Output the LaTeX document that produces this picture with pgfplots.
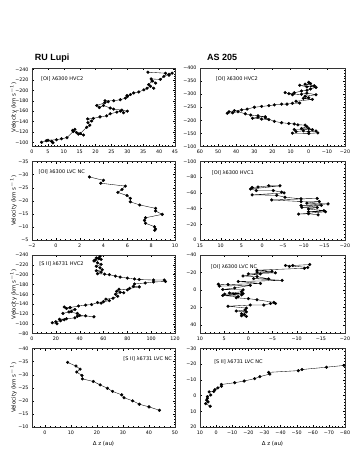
\documentclass[border=0pt]{standalone}
\usepackage{fontspec}
\setmainfont{DejaVu Sans}
\newfontfamily\titlefont{Liberation Sans}
\usepackage{pgfplots}
\pgfplotsset{compat=1.18}

% tick labels with a real minus sign in the text font
\newcommand{\tk}{\pgfmathtruncatemacro\tkv{\tick}\ifnum\tkv<0 −\pgfmathtruncatemacro\tkw{-\tkv}\tkw\else\tkv\fi}

\tikzset{plab/.style={font=\fontsize{5}{6}\selectfont, inner sep=0pt}}

\pgfplotsset{
  panel/.style={
    scale only axis, anchor=north west, clip=false,
    y dir=reverse,
    tick align=inside, tick pos=both, minor tick num=4,
    major tick length=2.4pt, minor tick length=1.2pt,
    axis line style={line width=0.4pt, black!80},
    every tick/.style={black, line width=0.3pt},
    tick label style={font=\fontsize{4.8}{5}\selectfont},
    xticklabel=\tk, yticklabel=\tk,
    xlabel style={font=\fontsize{5.5}{6}\selectfont},
    every axis y label/.style={at={(axis description cs:-0.13,0.5)}, rotate=90, anchor=center, font=\fontsize{5.5}{6}\selectfont},
    every axis plot post/.append style={black, line width=0.35pt, mark=*, mark size=1.4pt, mark options={solid, draw=black, fill=black}},
  },
  lw/.style={panel, width=143pt, height=78.5pt, ylabel={Velocity (km s$^{-1}$)}},
  rw/.style={panel, width=145pt, height=78.5pt, x dir=reverse},
}

\begin{document}
\begin{tikzpicture}
\path[use as bounding box] (0,0) rectangle (354pt,-471pt);

% ---------------- RU Lupi ----------------
\begin{axis}[lw, at={(32pt,-68pt)},
  xmin=0, xmax=45, xtick distance=5,
  ymin=-243, ymax=-92, ytick={-240,-220,...,-100}]
\addplot coordinates {
(3.0,-100) (4.5,-103) (6.2,-102) (6.6,-99) (5.0,-104) (7.7,-105) (9.3,-107)
(11.0,-109) (13.0,-121) (13.5,-125) (12.8,-123) (14.0,-119) (14.6,-116)
(16.2,-114) (15.2,-117) (17.2,-129) (18.2,-133) (17.6,-138) (18.8,-141)
(17.5,-145) (19.3,-146) (21.4,-149) (23.5,-151) (24.6,-155) (26.7,-158)
(27.8,-160) (28.8,-157) (30.0,-160) (28.3,-162) (25.7,-164) (24.6,-166)
(22.5,-171) (21.2,-167) (20.4,-171) (22.9,-176) (24.0,-178) (23.0,-180)
(25.7,-180) (27.8,-182) (29.4,-185) (29.9,-190) (31.0,-192) (30.0,-188)
(32.0,-195) (33.6,-197) (35.2,-201) (36.2,-204) (37.3,-208) (38.3,-204)
(36.7,-211) (37.8,-218) (38.9,-214) (37.5,-222) (40.4,-221) (41.5,-227)
(43.1,-231) (44.1,-233) (43.1,-229) (42.0,-233) (36.5,-235)
};
\node[plab, anchor=west] at (axis description cs:0.063,0.86) {[OI] λ6300 HVC2};
\node[font=\titlefont\bfseries\fontsize{9}{10}\selectfont] at (axis description cs:0.14,1.13) {RU Lupi};
\end{axis}

\begin{axis}[lw, at={(32pt,-161.5pt)},
  xmin=-2, xmax=10, xtick distance=2,
  ymin=-35, ymax=-5, ytick distance=5]
\addplot coordinates {
(2.82,-29.1) (4.0,-27.8) (3.77,-26.7) (5.83,-25.6) (5.55,-24.3) (5.2,-23.2)
(5.97,-22.0) (6.25,-20.9) (6.25,-19.6) (7.04,-18.4) (8.37,-17.1) (8.37,-16.1)
(8.93,-14.8) (7.52,-13.5) (7.44,-12.5) (7.52,-11.4) (8.28,-10.1) (8.37,-9.2)
(8.3,-8.7)
};
\node[plab, anchor=west] at (axis description cs:0.045,0.866) {[OI] λ6300 LVC NC};
\end{axis}

\begin{axis}[lw, at={(32pt,-255pt)},
  xmin=0, xmax=120, xtick distance=20,
  ymin=-240, ymax=-80, ytick distance=20]
\addplot coordinates {
(17,-102) (21,-100) (20,-104) (24,-106) (27,-108) (23,-109) (29,-110)
(36,-112) (38,-115) (45,-116) (52,-114) (40,-117) (38,-121) (31,-124)
(26,-121) (33,-125) (36,-129) (29,-131) (27,-134) (32,-133) (39,-136)
(45,-138) (50,-139) (55,-143) (58,-142) (60,-145) (65,-147) (62,-150)
(68,-152) (72,-156) (70,-160) (74,-164) (77,-163) (71,-166) (73,-170)
(80,-169) (82,-172) (90,-175) (85,-176) (86,-181) (95,-183) (102,-185)
(112,-186) (111,-189) (102,-189) (90,-190) (86,-191) (80,-193) (74,-195)
(70,-197) (65,-200) (61,-201) (55,-202) (58,-205) (54,-208) (59,-210)
(57,-214) (54,-217) (58,-221) (55,-224) (52,-228) (58,-231) (54,-234)
(57,-237) (56,-233) (53,-230)
};
\node[plab, anchor=west] at (axis description cs:0.05,0.885) {[S II] λ6731 HVC2};
\end{axis}

\begin{axis}[lw, at={(32pt,-348.5pt)},
  xmin=-5, xmax=50, xtick distance=10,
  ymin=-40, ymax=-10, ytick distance=5,
  xlabel={Δ z (au)}]
\addplot coordinates {
(8.7,-34.7) (11.9,-33.3) (13.5,-32.1) (12.2,-31.0) (14.2,-29.7) (14.4,-28.4)
(18.6,-27.4) (21.2,-26.1) (24.0,-24.8) (26.0,-23.6) (29.5,-22.3) (30.4,-21.2)
(33.7,-20.0) (36.3,-18.7) (40.0,-17.7) (44.0,-16.4)
};
\node[plab, anchor=east] at (axis description cs:0.98,0.866) {[S II] λ6731 LVC NC};
\end{axis}

% ---------------- AS 205 ----------------
\begin{axis}[rw, at={(200pt,-68pt)},
  xmin=-20, xmax=60, xtick distance=10,
  ymin=-400, ymax=-100, ytick distance=50]
\addplot coordinates {
(0,-345) (-1,-340) (2,-338) (-3,-332) (1,-328) (5,-334) (-4,-326) (-1,-320)
(1,-315) (4,-312) (8,-305) (11,-302) (13,-306) (9,-298) (4,-300) (1,-304)
(-4,-298) (2,-292) (0,-286) (3,-284) (-2,-280) (7,-273) (5,-266) (9,-265)
(12,-262) (15,-262) (19,-259) (22,-256) (26,-253) (30,-250) (34,-243)
(37,-240) (41,-237) (44,-233) (45,-227) (42,-229) (39,-233) (35,-225)
(32,-220) (28,-217) (24,-214) (28,-212) (31,-208) (26,-205) (22,-203)
(24,-210) (19,-196) (15,-191) (11,-188) (8,-186) (6,-183) (2,-182) (1,-176)
(4,-169) (0,-169) (-2,-164) (8,-165) (7,-157) (3,-160) (0,-156) (-4,-159)
(-5,-152) (0,-150) (9,-151)
};
\node[plab, anchor=west] at (axis description cs:0.108,0.86) {[OI] λ6300 HVC2};
\node[font=\titlefont\bfseries\fontsize{9}{10}\selectfont] at (axis description cs:0.152,1.13) {AS 205};
\end{axis}

\begin{axis}[rw, at={(200pt,-161.5pt)},
  xmin=-20, xmax=15, xtick distance=5,
  ymin=-100, ymax=0, ytick distance=20]
\addplot coordinates {
(2.4,-67) (1,-67.5) (-1.6,-69) (-4.3,-69) (2.8,-65) (1.4,-63) (-2.7,-63)
(-4.7,-61) (-5.3,-60) (2.4,-57.5) (-3.5,-57) (-5.5,-54.5) (-9.4,-52.5)
(-13.3,-53) (-2.3,-51) (-9.4,-49) (-13.8,-49) (-10.8,-47) (-15.9,-46)
(-9.4,-44) (-14.3,-44) (-9.6,-41.5) (-13.3,-41.5) (-11.2,-39.5)
(-14.9,-37.5) (-11.2,-36) (-15.3,-36) (-8.8,-33) (-11.2,-33.5) (-13.5,-32)
};
\node[plab, anchor=west] at (axis description cs:0.08,0.853) {[OI] λ6300 HVC1};
\end{axis}

\begin{axis}[rw, at={(200pt,-255pt)},
  xmin=-20, xmax=10, xtick distance=5,
  ymin=-40, ymax=50, ytick={-40,-20,...,40}]
\addplot coordinates {
(-12.7,-29) (-9.2,-28) (-8.5,-27) (-7.7,-28) (-12.3,-25.7) (-11.6,-24.8)
(-1.8,-22.6) (-4.9,-21.3) (-1.8,-20.4) (-5.6,-19.6) (0,-18.3) (-2.5,-18.3)
(1.1,-16) (-1.8,-15.2) (-4.2,-12.6) (-1.1,-13) (-7,-10.9) (2.1,-9.6)
(-2.5,-7.4) (4.2,-6.1) (6.2,-6.5) (6,-4.3) (-0.4,-5.2) (2.8,-2.2)
(5.3,-0.4) (1.1,0) (1.4,2.2) (3.9,3.5) (1.1,4.3) (4.9,4.8) (1.4,5.7)
(5.3,6.5) (2.1,7.8) (2.5,9.1) (0,10) (-1.8,11.3) (-5.3,14.3) (-5.6,15.6)
(-4.6,15.6) (-3.2,17.4) (-0.4,17.4) (4.2,18.7) (0.4,20.9) (0.7,23)
(2.5,24.3) (0.4,25.2) (1.4,27.4) (0.8,28.3) (1.4,29.6) (0.4,30.4)
};
\node[plab, anchor=west] at (axis description cs:0.074,0.85) {[OI] λ6300 LVC NC};
\end{axis}

\begin{axis}[rw, at={(200pt,-348.5pt)},
  xmin=-80, xmax=10, xtick distance=10,
  ymin=-30, ymax=20, ytick distance=10,
  xlabel={Δ z (au)}]
\addplot coordinates {
(-79.3,-19.2) (-68.5,-18.1) (-53.3,-16.6) (-51,-15.9) (-32.6,-14.8)
(-33.3,-13.7) (-27.2,-12.1) (-23.9,-10.8) (-17.4,-9.3) (-11.5,-8.2)
(-3.3,-7.1) (-3.3,-6) (-1.1,-4.9) (0.7,-3.8) (1.5,-2.6) (4.3,-2.4)
(3.3,-0.4) (5.4,0.7) (5.4,1.8) (5.9,2.9) (5,4) (6.5,5.1) (3.7,6.8)
};
\node[plab, anchor=west] at (axis description cs:0.097,0.83) {[S II] λ6731 LVC NC};
\end{axis}
\end{tikzpicture}
\end{document}
